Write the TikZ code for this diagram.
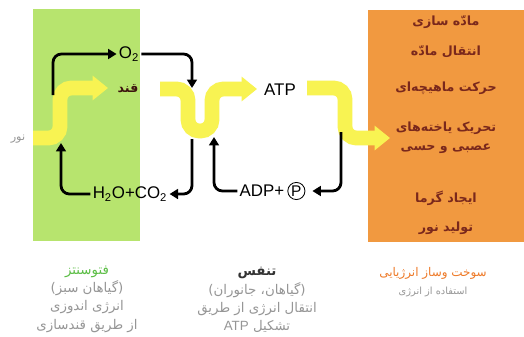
\documentclass[tikz,border=0pt]{standalone}
\usepackage{fontspec}
\setmainfont{Liberation Sans}
\newfontfamily\fafont[Script=Arabic]{DejaVu Sans}
\TeXXeTstate=1
\usetikzlibrary{positioning,arrows.meta}
\definecolor{leafgreen}{RGB}{183,228,110}
\definecolor{useorange}{RGB}{241,153,64}
\definecolor{flowyellow}{RGB}{248,243,82}
\definecolor{usetext}{RGB}{122,40,28}
\definecolor{capgray}{RGB}{150,150,150}
\definecolor{photogreen}{RGB}{92,190,70}
\definecolor{metaorange}{RGB}{238,122,40}
\newcommand{\faline}[1]{{\fafont\beginR #1\endR}}

\begin{document}
\begin{tikzpicture}[x=0.025cm,y=-0.025cm,
  yflow/.style={line width=10.5pt,flowyellow,rounded corners=8pt,-{Triangle[length=11pt,width=17pt]}},
  karrow/.style={line width=2pt,rounded corners=6pt,-{Triangle[length=6pt,width=7pt]}},
  lbl/.style={font=\fontsize{12}{14}\selectfont,inner sep=1.5pt},
  jobtxt/.style={text=usetext,font=\fontsize{9}{13.5}\selectfont\bfseries,align=center},
  captxt/.style={text=capgray,font=\fontsize{9.5}{13}\selectfont,align=center}]
\useasboundingbox (0,0) rectangle (524,336);
\fill[white] (0,0) rectangle (524,336);
\fill[leafgreen] (33,9) rectangle (140,241);
\fill[useorange] (368,10) rectangle (524,242);

% yellow energy flow
\draw[yflow] (33,138) -- (60,138) -- (60,88) -- (108,88);
\draw[yflow] (160,89) -- (188,89) -- (188,131) -- (212,131) -- (212,89) -- (257,89);
\draw[yflow] (307,88) -- (345,88) -- (345,138) -- (390,138);

\node[captxt,font=\fontsize{8}{10}\selectfont] (light) at (18,139) {\faline{نور}};
\node[lbl] (o2) at (129,54) {O\textsubscript{2}};
\node[lbl,text=usetext!50!black,font=\fontsize{9}{10}\selectfont\bfseries] (qand) at (128,89) {\faline{قند}};
\node[lbl] (h2o) at (130,194) {H\textsubscript{2}O+CO\textsubscript{2}};
\node[lbl] (atp) at (280,90) {ATP};
\node[lbl] (adp) at (262,191) {ADP+};
\node[circle,draw,line width=0.6pt,inner sep=0.6pt,minimum size=12pt,font=\fontsize{11}{12}\selectfont,right=0.5pt of adp] (pp) {P};

% black connectors
\coordinate (s1) at (53,95);
\coordinate (d1) at (192,88);
\coordinate (d2) at (192,139);
\coordinate (l1) at (61,143);
\coordinate (u3) at (214,137);
\coordinate (r1) at (341,132);
\draw[karrow] (s1) |- (o2);
\draw[karrow] (o2) -| (d1);
\draw[karrow] (d2) |- (h2o);
\draw[karrow] (h2o) -| (l1);
\draw[karrow] (adp) -| (u3);
\draw[karrow,shorten >=5pt] (r1) |- (pp);

% uses of energy
\node[jobtxt] (j1) at (446,22) {\faline{مادّه سازی}};
\node[jobtxt] (j2) at (446,52) {\faline{انتقال مادّه}};
\node[jobtxt] (j3) at (446,88) {\faline{حرکت ماهیچه‌ای}};
\node[jobtxt] (j4) at (446,138) {\faline{تحریک یاخته‌های}\\\faline{عصبی و حسی}};
\node[jobtxt] (j5) at (446,198) {\faline{ایجاد گرما}};
\node[jobtxt] (j6) at (446,228) {\faline{تولید نور}};

% captions
\node[captxt] (photo) at (87,299) {{\color{photogreen}\faline{فتوسنتز}}\\\faline{(گیاهان سبز)}\\\faline{انرژی اندوزی}\\\faline{از طریق قندسازی}};
\node[captxt] (resp) at (257,300) {{\color{black!80}\bfseries\faline{تنفس}}\\\faline{(گیاهان، جانوران)}\\\faline{انتقال انرژی از طریق}\\\faline{تشکیل \beginL\normalfont ATP\endL}};
\node[captxt,font=\fontsize{7}{13}\selectfont] (meta) at (433,282) {{\color{metaorange}\fontsize{8.5}{13}\selectfont\faline{سوخت وساز انرژیایی}}\\\faline{استفاده از انرژی}};
\end{tikzpicture}
\end{document}
